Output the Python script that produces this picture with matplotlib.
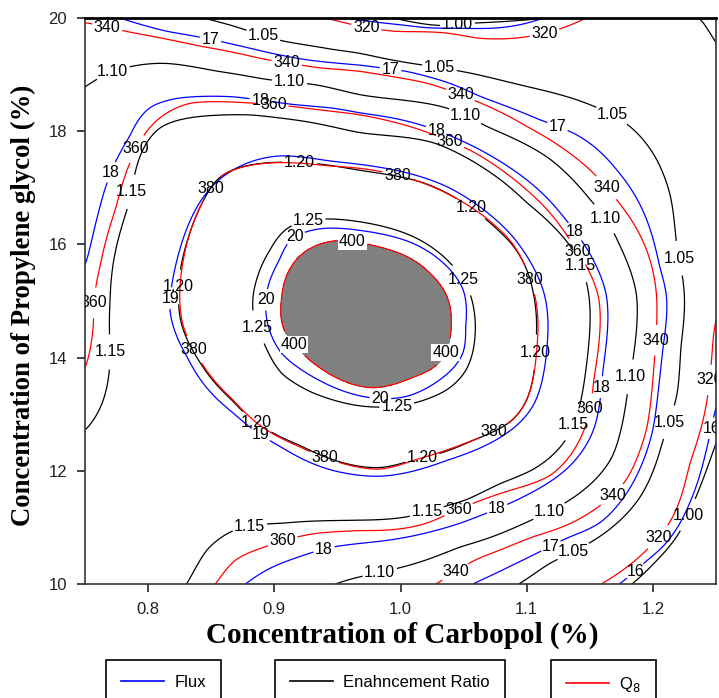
import numpy as np
import matplotlib
matplotlib.use("Agg")
import matplotlib.pyplot as plt
from matplotlib.lines import Line2D

# ---------------- data ----------------
# Axis ranges
carbopol_range = (0.75, 1.25)
pg_range = (10.0, 20.0)
x_ticks = [0.8, 0.9, 1.0, 1.1, 1.2]
y_ticks = [10, 12, 14, 16, 18, 20]

# Contour traces: level -> points (carbopol %, propylene glycol %)
er_levels = [1.00, 1.05, 1.10, 1.15, 1.20, 1.25]
er_traces = {
    1.25: [(0.944, 16.45), (0.973, 16.38), (1.010, 16.14), (1.044, 15.55), (1.055, 15.14),
           (1.058, 14.19), (1.052, 13.78), (1.037, 13.43), (1.010, 13.19), (0.957, 13.19),
           (0.931, 13.37), (0.905, 13.72), (0.891, 14.31), (0.883, 14.79), (0.886, 15.37),
           (0.897, 15.90), (0.912, 16.32)],
    1.20: [(0.846, 16.85), (0.833, 16.20), (0.826, 15.61), (0.824, 15.02), (0.826, 14.61),
           (0.840, 13.96), (0.867, 13.25), (0.893, 12.75), (0.920, 12.46), (0.984, 12.05),
           (1.010, 12.20), (1.058, 12.55), (1.089, 12.90), (1.100, 13.25), (1.107, 14.19),
           (1.105, 15.14), (1.088, 16.02), (1.062, 16.55), (1.015, 17.11), (0.944, 17.40),
           (0.895, 17.44), (0.857, 17.20)],
    1.15: [(0.750, 12.70), (0.770, 14.00), (0.770, 15.02), (0.786, 16.79), (0.810, 18.08),
           (0.841, 18.26), (0.883, 18.29), (0.968, 17.97), (1.026, 17.80), (1.055, 17.50),
           (1.100, 16.73), (1.137, 15.90), (1.147, 15.37), (1.150, 14.49), (1.145, 13.49),
           (1.131, 12.55), (1.105, 12.02), (1.079, 11.78), (1.052, 11.48), (1.007, 11.19),
           (0.968, 11.13), (0.907, 11.07), (0.868, 10.95), (0.846, 10.60), (0.831, 10.01)],
    1.10: [(0.751, 18.79), (0.794, 19.17), (0.815, 19.20), (0.854, 19.06), (0.894, 18.91),
           (0.934, 18.82), (0.968, 18.64), (1.037, 18.41), (1.068, 18.08), (1.116, 17.55),
           (1.150, 16.79), (1.174, 15.96), (1.187, 15.14), (1.187, 14.49), (1.180, 13.43),
           (1.168, 12.25), (1.145, 11.66), (1.092, 11.01), (1.047, 10.66), (0.998, 10.28),
           (0.968, 10.13), (0.948, 10.00)],
    1.05: [(0.844, 20.00), (0.868, 19.86), (0.907, 19.59), (0.947, 19.44), (0.968, 19.38),
           (1.047, 19.06), (1.100, 18.79), (1.153, 18.44), (1.182, 18.08), (1.203, 17.50),
           (1.214, 16.85), (1.219, 15.90), (1.225, 15.08), (1.222, 14.19), (1.219, 13.31),
           (1.208, 12.55), (1.190, 11.54), (1.158, 10.84), (1.118, 10.37), (1.095, 10.01)],
    1.00: [(1.000, 19.97), (1.045, 19.92), (1.090, 19.95),
           (1.249, 12.43), (1.234, 11.54), (1.219, 10.84), (1.203, 10.42), (1.184, 10.01),
           (1.240, 19.97), (1.249, 19.60)],
}
er_anchors = [(0.973, 14.80, 1.280), (0.750, 20.0, 1.070), (1.250, 20.0, 0.990),
              (1.250, 10.0, 0.960), (0.750, 10.0, 1.175), (0.790, 11.5, 1.180),
              (1.040, 20.0, 0.990), (1.250, 16.5, 1.025)]

q8_levels = [320, 340, 360, 380, 400]
q8_traces = {
    400: [(0.931, 15.96), (0.952, 16.08), (0.976, 15.99), (1.005, 15.79), (1.026, 15.43),
          (1.037, 15.08), (1.040, 14.55), (1.039, 14.31), (1.028, 13.84), (1.010, 13.66),
          (0.978, 13.46), (0.952, 13.61), (0.931, 13.90), (0.907, 14.49), (0.906, 15.02),
          (0.912, 15.55), (0.923, 15.85)],
    380: [(0.846, 16.85), (0.833, 16.20), (0.827, 15.61), (0.825, 15.02), (0.827, 14.61),
          (0.841, 13.96), (0.868, 13.25), (0.894, 12.72), (0.920, 12.43), (0.984, 12.02),
          (1.010, 12.19), (1.058, 12.55), (1.089, 12.90), (1.100, 13.25), (1.108, 14.19),
          (1.106, 15.14), (1.089, 16.02), (1.063, 16.55), (1.015, 17.11), (0.944, 17.38),
          (0.878, 17.38), (0.857, 17.20)],
    360: [(0.750, 13.80), (0.757, 14.61), (0.757, 15.02), (0.762, 15.61), (0.775, 16.67),
          (0.788, 17.55), (0.802, 18.08), (0.833, 18.50), (0.881, 18.50), (0.915, 18.44),
          (0.947, 18.35), (0.968, 18.29), (1.039, 17.82), (1.055, 17.67), (1.100, 16.96),
          (1.134, 16.08), (1.157, 15.08), (1.158, 14.49), (1.153, 13.61), (1.139, 12.43),
          (1.118, 11.90), (1.079, 11.60), (1.021, 11.07), (0.968, 10.95), (0.934, 10.90),
          (0.894, 10.66), (0.868, 10.42), (0.854, 10.01)],
    340: [(0.750, 19.94), (0.783, 19.76), (0.841, 19.50), (0.894, 19.26), (0.934, 19.12),
          (0.968, 19.06), (1.021, 18.85), (1.063, 18.50), (1.100, 18.08), (1.134, 17.61),
          (1.158, 17.14), (1.171, 16.79), (1.195, 15.90), (1.203, 15.08), (1.202, 14.19),
          (1.195, 12.72), (1.179, 11.84), (1.153, 11.31), (1.105, 10.84), (1.079, 10.60),
          (1.058, 10.42), (1.029, 10.01)],
    320: [(0.941, 20.00), (0.968, 19.85), (0.994, 19.76), (1.060, 19.64), (1.100, 19.67),
          (1.131, 19.85), (1.147, 20.00),
          (1.248, 14.43), (1.241, 13.02), (1.229, 12.13), (1.216, 11.19), (1.195, 10.60),
          (1.160, 10.01)],
}
q8_anchors = [(0.973, 14.80, 405.0), (0.750, 20.0, 339.0), (1.250, 20.0, 327.0),
              (1.250, 10.0, 300.0), (0.750, 10.0, 370.0), (0.790, 11.5, 372.0),
              (1.040, 20.0, 316.0)]

flux_levels = [16, 17, 18, 19, 20]
flux_traces = {
    20: [(0.942, 16.29), (0.973, 16.23), (1.010, 16.02), (1.034, 15.67), (1.050, 15.20),
         (1.051, 14.55), (1.050, 14.08), (1.031, 13.61), (1.005, 13.31), (0.952, 13.43),
         (0.926, 13.72), (0.905, 14.08), (0.894, 14.67), (0.895, 15.26), (0.905, 15.73),
         (0.912, 16.08)],
    19: [(0.817, 14.84), (0.820, 15.43), (0.839, 16.67), (0.868, 17.32), (0.905, 17.57),
         (0.944, 17.47), (1.037, 17.02), (1.089, 16.14), (1.113, 15.20), (1.116, 14.19),
         (1.105, 13.14), (1.076, 12.55), (1.037, 12.19), (0.984, 11.90), (0.944, 12.02),
         (0.905, 12.43), (0.868, 13.02), (0.831, 14.02)],
    18: [(0.751, 15.67), (0.762, 16.67), (0.786, 17.91), (0.802, 18.44), (0.825, 18.59),
         (0.868, 18.61), (0.915, 18.47), (0.947, 18.41), (0.968, 18.32), (1.058, 17.73),
         (1.100, 17.14), (1.131, 16.43), (1.163, 15.14), (1.164, 14.49), (1.160, 13.73),
         (1.153, 12.72), (1.131, 12.02), (1.092, 11.48), (1.047, 11.07), (0.968, 10.72),
         (0.947, 10.66), (0.920, 10.48), (0.894, 10.25), (0.878, 10.01)],
    17: [(0.783, 19.96), (0.815, 19.76), (0.868, 19.53), (0.897, 19.38), (0.926, 19.26),
         (0.968, 19.17), (1.005, 19.06), (1.039, 18.85), (1.063, 18.61), (1.110, 18.20),
         (1.137, 17.97), (1.171, 17.32), (1.197, 16.32), (1.205, 15.61), (1.211, 15.08),
         (1.208, 14.19), (1.200, 12.72), (1.184, 11.78), (1.158, 11.07), (1.131, 10.81),
         (1.092, 10.37), (1.058, 10.01)],
    16: [(0.955, 20.00), (0.986, 19.91), (1.021, 19.82), (1.074, 19.82), (1.113, 20.00),
         (1.248, 12.96), (1.241, 12.25), (1.229, 11.43), (1.208, 10.66), (1.195, 10.42),
         (1.174, 10.01)],
}
flux_anchors = [(0.973, 14.80, 20.40), (0.750, 20.0, 17.10), (1.250, 20.0, 16.50),
                (1.250, 10.0, 15.30), (0.750, 10.0, 18.55), (0.790, 11.5, 18.50),
                (1.040, 20.0, 15.85)]

# Label positions (where the inline labels sit in the reference)
er_label_pos = [(0.891, 19.67), (0.772, 19.05), (0.912, 18.87), (1.031, 19.14), (1.045, 19.90),
                (1.051, 18.26), (0.791, 16.91), (0.920, 17.44), (1.055, 16.61), (1.049, 15.37),
                (0.927, 16.40), (0.886, 14.53), (0.997, 13.16), (0.823, 15.25), (1.105, 14.10),
                (0.886, 12.85), (1.018, 12.16), (1.137, 12.81), (1.021, 11.27), (1.118, 11.27),
                (1.158, 16.40), (1.167, 18.26), (1.215, 15.73), (1.137, 10.57), (1.228, 11.22),
                (0.984, 10.16), (0.770, 14.10), (0.881, 10.95), (1.182, 13.66), (1.207, 12.90),
                (1.140, 15.60)]
q8_label_pos = [(0.768, 19.88), (0.910, 19.23), (0.973, 19.85), (1.114, 19.74), (1.047, 18.61),
                (0.788, 17.72), (0.899, 18.41), (1.039, 17.81), (0.997, 17.18), (0.851, 16.96),
                (1.101, 15.37), (0.836, 14.14), (0.940, 12.25), (1.073, 12.72), (0.962, 16.08),
                (0.915, 14.22), (1.035, 14.10), (0.754, 14.97), (1.142, 15.90), (1.148, 13.11),
                (1.047, 11.27), (0.907, 10.74), (1.163, 17.00), (1.200, 14.31), (1.168, 11.57),
                (1.045, 10.16), (1.243, 13.61), (1.205, 10.81)]
flux_label_pos = [(0.849, 19.58), (0.992, 19.09), (1.124, 18.06), (0.770, 17.28), (0.889, 18.56),
                  (1.029, 18.06), (0.812, 15.06), (0.889, 12.63), (0.918, 16.08), (0.894, 15.02),
                  (0.984, 13.25), (1.158, 13.48), (1.138, 16.22), (1.076, 11.36), (0.939, 10.64),
                  (1.118, 10.72), (1.245, 12.76), (1.184, 10.28)]

legend_labels = ["Flux", "Enahncement Ratio", "Q$_8$"]

# ---------------- surface reconstruction (thin-plate spline) ----------------
ASPECT = 631.0 / 566.0


def _norm(x, y):
    u = (np.asarray(x) - carbopol_range[0]) / (carbopol_range[1] - carbopol_range[0]) * ASPECT
    v = (np.asarray(y) - pg_range[0]) / (pg_range[1] - pg_range[0])
    return u, v


def _kern(r):
    with np.errstate(divide="ignore", invalid="ignore"):
        k = r * r * np.log(r)
    return np.where(r > 0, k, 0.0)


def surface(traces, anchors, gx, gy, lam=8e-4):
    xs, ys, zs = [], [], []
    for lev, pts in traces.items():
        for (px, py) in pts:
            xs.append(px); ys.append(py); zs.append(lev)
    for (px, py, pz) in anchors:
        xs.append(px); ys.append(py); zs.append(pz)
    u, v = _norm(xs, ys)
    z = np.asarray(zs, float)
    n = len(z)
    d = np.hypot(u[:, None] - u[None, :], v[:, None] - v[None, :])
    K = _kern(d) + lam * np.eye(n)
    P = np.column_stack([np.ones(n), u, v])
    A = np.zeros((n + 3, n + 3))
    A[:n, :n] = K
    A[:n, n:] = P
    A[n:, :n] = P.T
    rhs = np.concatenate([z, np.zeros(3)])
    sol = np.linalg.solve(A, rhs)
    w, a = sol[:n], sol[n:]
    gu, gv = _norm(gx.ravel(), gy.ravel())
    dg = np.hypot(gu[:, None] - u[None, :], gv[:, None] - v[None, :])
    val = _kern(dg) @ w + a[0] + a[1] * gu + a[2] * gv
    return val.reshape(gx.shape)


gxs = np.linspace(carbopol_range[0], carbopol_range[1], 260)
gys = np.linspace(pg_range[0], pg_range[1], 260)
GX, GY = np.meshgrid(gxs, gys)
Z_er = surface(er_traces, er_anchors, GX, GY)
Z_q8 = surface(q8_traces, q8_anchors, GX, GY)
Z_fx = surface(flux_traces, flux_anchors, GX, GY)

# ---------------- drawing ----------------
plt.rcParams["font.family"] = ["Liberation Sans", "DejaVu Sans"]
fig = plt.figure(figsize=(7.19, 6.98), dpi=100)
ax = fig.add_axes([85 / 719, 114 / 698, 631 / 719, 566 / 698])

ax.contourf(GX, GY, Z_q8, levels=[400, 1e6], colors=["#808080"])
cs_fx = ax.contour(GX, GY, Z_fx, levels=flux_levels, colors="#0000ff", linewidths=0.9)
cs_er = ax.contour(GX, GY, Z_er, levels=er_levels, colors="black", linewidths=0.9)
cs_q8 = ax.contour(GX, GY, Z_q8, levels=q8_levels, colors="#ff0000", linewidths=0.9)

lab_kw = dict(inline=True, inline_spacing=2, fontsize=11.5, colors="black")
texts = []
texts += ax.clabel(cs_fx, fmt="%d", manual=flux_label_pos, **lab_kw)
texts += ax.clabel(cs_er, fmt="%.2f", manual=er_label_pos, **lab_kw)
texts += ax.clabel(cs_q8, fmt="%d", manual=q8_label_pos, **lab_kw)
for t in texts:
    t.set_rotation(0)
    if t.get_text() == "400":
        t.set_bbox(dict(facecolor="white", edgecolor="none", pad=0.6))

ax.set_xlim(*carbopol_range)
ax.set_ylim(*pg_range)
ax.set_xticks(x_ticks)
ax.set_xticklabels([f"{t:.1f}" for t in x_ticks])
ax.set_yticks(y_ticks)
ax.tick_params(direction="out", length=6, width=1.2, labelsize=12, colors="#222222", pad=7)
for side in ["left", "bottom", "right"]:
    ax.spines[side].set_linewidth(1.2)
    ax.spines[side].set_color("#333333")
ax.spines["top"].set_linewidth(2.0)
ax.spines["top"].set_color("black")

ax.set_xlabel("Concentration of Carbopol (%)", family="Liberation Serif",
              fontweight="bold", fontsize=21)
ax.set_ylabel("Concentration of Propylene glycol (%)", family="Liberation Serif",
              fontweight="bold", fontsize=19.3)
ax.xaxis.set_label_coords(0.502, -0.066)
ax.yaxis.set_label_coords(-0.078, 0.493)

leg_specs = [("#0000ff", legend_labels[0], 106), ("black", legend_labels[1], 275),
             ("#ff0000", legend_labels[2], 551)]
for col, lab, left_px in leg_specs:
    lg = fig.legend(handles=[Line2D([0], [0], color=col, lw=1.2)], labels=[lab],
                    loc="upper left", bbox_to_anchor=(left_px / 719, 1 - 660 / 698),
                    frameon=True, fancybox=False, edgecolor="black", framealpha=1,
                    fontsize=12, borderpad=0.9, handlelength=2.6, handletextpad=0.6,
                    borderaxespad=0)
    lg.get_frame().set_linewidth(1.2)

fig.savefig("out.png", dpi=100)
